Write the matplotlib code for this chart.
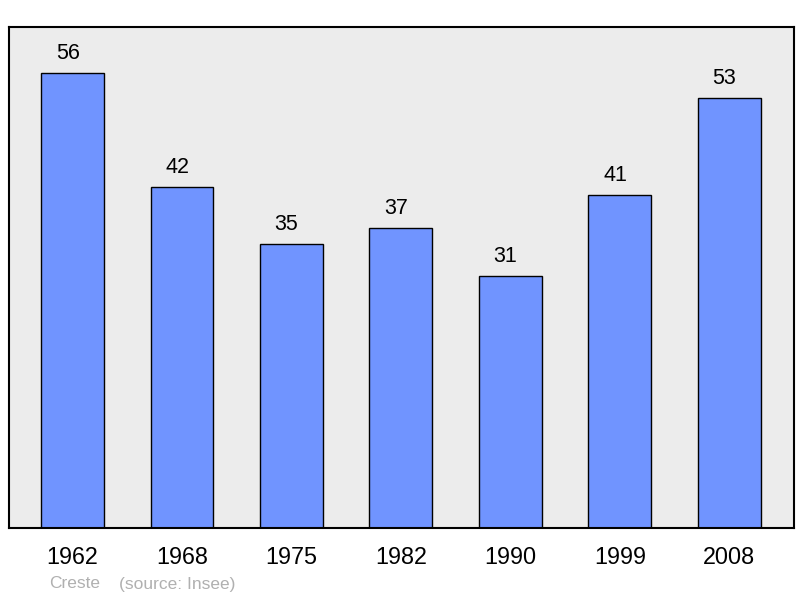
import matplotlib.pyplot as plt
import numpy as np

plt.rcParams['font.family'] = ['Liberation Sans', 'DejaVu Sans']

years = ['1962', '1968', '1975', '1982', '1990', '1999', '2008']
population = [56, 42, 35, 37, 31, 41, 53]

fig = plt.figure(figsize=(8, 5.98), dpi=100)
ax = fig.add_axes([9/800, 1 - 528/598, 785/800, 501/598])
ax.set_facecolor('#ececec')

x = np.arange(len(years))
ax.bar(x, population, width=0.575, color='#7094ff', edgecolor='black', linewidth=1.0, zorder=2)

# value labels sit a bit left of the bar centre, as in the original
for xi, v in zip(x, population):
    ax.annotate(str(v), (xi, v), xytext=(-3.5, 10), textcoords='offset points',
                ha='center', va='baseline', fontsize=15.5)

ax.set_xlim(-0.58, 6.59)
ax.set_ylim(0, 61.7)
ax.set_yticks([])
ax.set_xticks(x, years, fontsize=16.8)
ax.tick_params(axis='x', length=0, pad=13)
for s in ax.spines.values():
    s.set_linewidth(1.5)

fig.text(49/800, 1 - 584/598, 'Creste', color='#b0b0b0', fontsize=12.5, va='center')
fig.text(119/800, 1 - 584/598, '(source: Insee)', color='#b0b0b0', fontsize=12.5, va='center')

fig.savefig('out.png', dpi=100)
